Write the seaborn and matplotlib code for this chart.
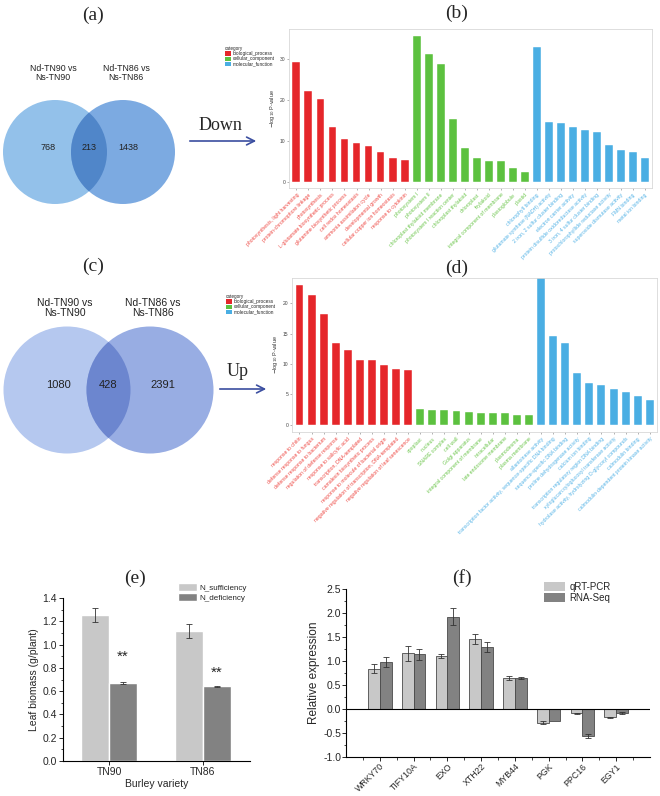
import numpy as np
import pandas as pd
import matplotlib.pyplot as plt
from matplotlib.patches import Circle, Patch
import seaborn as sns

sns.set_style("white")
plt.rcParams['font.family'] = ['Liberation Sans', 'DejaVu Sans']

# ------------------------------------------------------------
# Data
# ------------------------------------------------------------
venn_sets = ["Nd-TN90 vs\nNs-TN90", "Nd-TN86 vs\nNs-TN86"]
venn_down = [768, 213, 1438]
venn_up = [1080, 428, 2391]

go_categories = ["biological_process", "cellular_component", "molecular_function"]
go_colors = ["#e5262a", "#5cc13f", "#4aaee3"]
go_text_colors = ["#ee4a45", "#6ec64e", "#55b3e6"]

down_bp_terms = ["photosynthesis, light harvesting", "protein-chromophore linkage",
                 "photosynthesis", "L-glutamate biosynthetic process",
                 "glutamine biosynthetic process", "cell redox homeostasis",
                 "ammonia assimilation cycle", "developmental growth",
                 "cellular copper ion homeostasis", "response to cytokinin"]
down_bp_vals = [29.3, 22.2, 20.3, 13.4, 10.5, 9.5, 8.7, 7.2, 5.9, 5.4]
down_cc_terms = ["photosystem I", "photosystem II", "chloroplast thylakoid membrane",
                 "photosystem I reaction center", "chloroplast thylakoid", "chloroplast",
                 "thylakoid", "integral component of membrane", "plastoglobule", "plastid"]
down_cc_vals = [35.7, 31.2, 28.9, 15.5, 8.3, 5.9, 5.2, 5.0, 3.3, 2.5]
down_mf_terms = ["chlorophyll binding", "glutamate synthase (NADH) activity",
                 "2 iron, 2 sulfur cluster binding", "electron carrier activity",
                 "protein disulfide oxidoreductase activity", "3 iron, 4 sulfur cluster binding",
                 "protochlorophyllide reductase activity", "superoxide dismutase activity",
                 "FMN binding", "metal ion binding"]
down_mf_vals = [33.1, 14.6, 14.4, 13.5, 12.8, 12.2, 8.9, 7.7, 7.3, 5.9]

up_bp_terms = ["response to chitin", "defense response to fungus",
               "defense response to bacterium", "regulation of defense response",
               "response to salicylic acid", "transcription, DNA-templated",
               "camalexin biosynthetic process", "response to molecule of bacterial origin",
               "negative regulation of transcription, DNA-templated",
               "negative regulation of leaf senescence"]
up_bp_vals = [23.0, 21.4, 18.2, 13.5, 12.3, 10.7, 10.6, 9.8, 9.2, 9.0]
up_cc_terms = ["apoplast", "nucleus", "SNARE complex", "cell wall", "Golgi apparatus",
               "integral component of membrane ", "intracellular", "late endosome membrane",
               "plasmodesma", "plasma membrane"]
up_cc_vals = [2.6, 2.5, 2.4, 2.3, 2.1, 2.0, 1.9, 1.9, 1.6, 1.6]
up_mf_terms = ["allantoinase activity",
               "transcription factor activity, sequence-specific DNA binding",
               "sequence-specific DNA binding", "proline dehydrogenase activity",
               "calcium ion binding", "transcription regulatory region DNA binding",
               "xyloglucan:xyloglucosyl transferase activity",
               "hydrolase activity, hydrolyzing O-glycosyl compounds",
               "calmodulin binding", "calmodulin-dependent protein kinase activity"]
up_mf_vals = [24.3, 14.7, 13.5, 8.6, 6.9, 6.6, 5.9, 5.4, 4.8, 4.1]

varieties = ["TN90", "TN86"]
treatments = ["N_sufficiency", "N_deficiency"]
biomass_suff = [1.25, 1.12]
biomass_suff_err = [0.06, 0.06]
biomass_def = [0.67, 0.64]
biomass_def_err = [0.005, 0.006]
star_y = [0.86, 0.72]

genes = ["WRKY70", "TIFY10A", "EXO", "XTH22", "MYB44", "PGK", "PPC16", "EGY1"]
methods = ["qRT-PCR", "RNA-Seq"]
qpcr = [0.84, 1.16, 1.11, 1.46, 0.65, -0.29, -0.09, -0.17]
qpcr_err = [0.10, 0.15, 0.04, 0.10, 0.04, 0.03, 0.01, 0.01]
rnaseq = [0.98, 1.14, 1.92, 1.29, 0.65, -0.24, -0.57, -0.08]
rnaseq_err = [0.10, 0.12, 0.18, 0.11, 0.015, 0.0, 0.04, 0.02]

# ------------------------------------------------------------
# Figure + overlay (pixel coordinates)
# ------------------------------------------------------------
W, H = 660, 796
fig = plt.figure(figsize=(W / 100, H / 100), dpi=100)
ov = fig.add_axes([0, 0, 1, 1])
ov.set_xlim(0, W)
ov.set_ylim(H, 0)
ov.axis("off")


def fax(left, top, right, bottom):
    return fig.add_axes([left / W, 1 - bottom / H, (right - left) / W, (bottom - top) / H])


serif = ["Liberation Serif", "DejaVu Serif"]
for lab, (x, y) in zip(["(a)", "(b)", "(c)", "(d)", "(e)", "(f)"],
                       [(93, 15), (457, 13), (93, 266), (457, 268), (135, 578), (462, 578)]):
    ov.text(x, y, lab, ha="center", va="center", fontsize=14, family=serif)


# ------------------------------------------------------------
# Venn diagrams
# ------------------------------------------------------------
def venn(counts, c1, c2, r, cols, name_y, fs_name, fs_num, num_x):
    left = Circle(c1, r, facecolor=cols[0], edgecolor="none")
    right = Circle(c2, r, facecolor=cols[1], edgecolor="none")
    ov.add_patch(left)
    ov.add_patch(right)
    lens = Circle(c1, r, facecolor=cols[2], edgecolor="none")
    ov.add_patch(lens)
    lens.set_clip_path(right)
    ov.text(c1[0] - 2, name_y, venn_sets[0], ha="center", va="center",
            fontsize=fs_name, linespacing=1.1, color="#222222")
    ov.text(c2[0] + 3, name_y, venn_sets[1], ha="center", va="center",
            fontsize=fs_name, linespacing=1.1, color="#222222")
    for n, x in zip(counts, num_x):
        ov.text(x, c1[1] - 5, str(n), ha="center", va="center", fontsize=fs_num,
                color="#222222")


venn(venn_down, (55, 152), (123, 152), 52, ["#93c1ea", "#7caae1", "#5086c9"],
     73, 6.3, 6.5, [48, 89, 128])
venn(venn_up, (67, 390), (150, 390), 63.5, ["#b5c8ef", "#98ade3", "#6c86cf"],
     308, 7.5, 8, [58, 108, 163])

# arrows
arrow_col = "#3b4ea0"
ov.annotate("", xy=(259, 141), xytext=(187, 141),
            arrowprops=dict(arrowstyle="->", color=arrow_col, lw=1.2, mutation_scale=14))
ov.text(220, 126, "Down", ha="center", va="center", fontsize=13, family=serif)
ov.annotate("", xy=(269, 389), xytext=(217, 389),
            arrowprops=dict(arrowstyle="->", color=arrow_col, lw=1.2, mutation_scale=14))
ov.text(238, 372, "Up", ha="center", va="center", fontsize=13, family=serif)


# ------------------------------------------------------------
# GO enrichment bar charts
# ------------------------------------------------------------
def go_panel(ax, terms_list, vals_list, ylim, yticks, legend_xy):
    terms = sum(terms_list, [])
    vals = sum(vals_list, [])
    cats = sum([[c] * len(t) for c, t in zip(go_categories, terms_list)], [])
    df = pd.DataFrame({"term": terms, "value": vals, "category": cats})
    sns.barplot(data=df, x="term", y="value", hue="category", order=terms,
                hue_order=go_categories, palette=go_colors, dodge=False, width=0.66,
                edgecolor="white", linewidth=0.3, saturation=1, ax=ax, legend=False)
    ax.set_xlim(-0.62, len(terms) - 0.4)
    ax.set_ylim(*ylim)
    ax.set_yticks(yticks)
    ax.tick_params(axis="y", labelsize=3.6, length=1.5, width=0.4, color="#777777",
                   labelcolor="#444444", pad=1, left=True)
    ax.set_xticks(range(len(terms)))
    ax.set_xticklabels(terms, rotation=45, ha="right", rotation_mode="anchor", fontsize=3.7)
    ax.tick_params(axis="x", length=1.5, width=0.4, color="#777777", pad=1.5, bottom=True)
    tcol = dict(zip(go_categories, go_text_colors))
    for lab, c in zip(ax.get_xticklabels(), cats):
        lab.set_color(tcol[c])
    ax.set_xlabel("")
    ax.set_ylabel("$-$log$_{10}$ P-value", fontsize=4, color="#333333", labelpad=2)
    for s in ax.spines.values():
        s.set_color("#d8d8d8")
        s.set_linewidth(0.6)
    handles = [Patch(facecolor=c, edgecolor="none") for c in go_colors]
    leg = ax.legend(handles, go_categories, title="category", loc="upper left",
                    bbox_to_anchor=(legend_xy[0] / W, 1 - legend_xy[1] / H),
                    bbox_transform=fig.transFigure, frameon=False, fontsize=3.4,
                    title_fontsize=3.3, handlelength=1.3, handleheight=1.1,
                    labelspacing=0.05, handletextpad=0.3, borderpad=0, borderaxespad=0)
    leg._legend_box.align = "left"


ax_b = fax(289, 29, 652, 188)
go_panel(ax_b, [down_bp_terms, down_cc_terms, down_mf_terms],
         [down_bp_vals, down_cc_vals, down_mf_vals], (-1.5, 37.4), [0, 10, 20, 30], (225, 46))

ax_d = fax(292, 278, 657, 432)
go_panel(ax_d, [up_bp_terms, up_cc_terms, up_mf_terms],
         [up_bp_vals, up_cc_vals, up_mf_vals], (-1.2, 24.2), [0, 5, 10, 15, 20], (226, 294))

# ------------------------------------------------------------
# (e) Leaf biomass
# ------------------------------------------------------------
grays = ["#c8c8c8", "#828282"]
ax_e = fax(63, 598, 250, 761)
df_e = pd.DataFrame({
    "variety": varieties * 2,
    "treatment": [treatments[0]] * 2 + [treatments[1]] * 2,
    "biomass": biomass_suff + biomass_def,
})
sns.barplot(data=df_e, x="variety", y="biomass", hue="treatment", order=varieties,
            hue_order=treatments, palette=grays, width=0.6, errorbar=None, saturation=1,
            ax=ax_e)
for cont, errs in zip(ax_e.containers, [biomass_suff_err, biomass_def_err]):
    for bar, e in zip(cont, errs):
        ax_e.errorbar(bar.get_x() + bar.get_width() / 2, bar.get_y() + bar.get_height(),
                      yerr=e, color="#333333", lw=0.6, capsize=2, capthick=0.6)
for bar, y in zip(ax_e.containers[1], star_y):
    ax_e.text(bar.get_x() + bar.get_width() / 2, y, "**", ha="center", va="baseline",
              fontsize=11)
ax_e.set_xlim(-0.49, 1.5)
ax_e.set_ylim(0, 1.4)
ax_e.set_yticks(np.arange(0, 1.41, 0.2))
ax_e.set_yticklabels([f"{v:.1f}" for v in np.arange(0, 1.41, 0.2)])
ax_e.set_yticks(np.arange(0.1, 1.4, 0.2), minor=True)
ax_e.tick_params(axis="both", labelsize=7.5, length=3, width=0.7, direction="out",
                 left=True, bottom=True, pad=1.5)
ax_e.tick_params(axis="y", which="minor", length=1.8, width=0.6, left=True)
ax_e.set_ylabel("Leaf biomass (g/plant)", fontsize=7.5, labelpad=2)
ax_e.set_xlabel("Burley variety", fontsize=7.5, labelpad=1)
sns.despine(ax=ax_e)
for s in ["left", "bottom"]:
    ax_e.spines[s].set_color("black")
    ax_e.spines[s].set_linewidth(0.8)
ax_e.legend(loc="upper left", bbox_to_anchor=(178 / W, 1 - 583 / H),
            bbox_transform=fig.transFigure, frameon=False, fontsize=5.8,
            handlelength=2.4, handleheight=1.2, labelspacing=0.15, handletextpad=0.3,
            borderpad=0, borderaxespad=0)

# ------------------------------------------------------------
# (f) qRT-PCR vs RNA-Seq
# ------------------------------------------------------------
ax_f = fax(346, 589, 650, 757)
df_f = pd.DataFrame({
    "gene": genes * 2,
    "method": [methods[0]] * len(genes) + [methods[1]] * len(genes),
    "expr": qpcr + rnaseq,
})
sns.barplot(data=df_f, x="gene", y="expr", hue="method", order=genes, hue_order=methods,
            palette=grays, width=0.7, errorbar=None, edgecolor="#4a4a4a", linewidth=0.6,
            saturation=1, ax=ax_f)
for cont, errs in zip(ax_f.containers, [qpcr_err, rnaseq_err]):
    for bar, e in zip(cont, errs):
        if e > 0:
            ax_f.errorbar(bar.get_x() + bar.get_width() / 2, bar.get_y() + bar.get_height(),
                          yerr=e, color="#333333", lw=0.6, capsize=2, capthick=0.6)
ax_f.axhline(0, color="black", lw=0.8)
ax_f.set_xlim(-1.0, 8.0)
ax_f.set_ylim(-1.0, 2.5)
yt = np.arange(-1.0, 2.51, 0.5)
ax_f.set_yticks(yt)
ax_f.set_yticklabels([f"{v:.1f}" for v in yt])
ax_f.set_yticks(np.arange(-0.75, 2.5, 0.5), minor=True)
ax_f.set_xticks(np.arange(-0.5, 8.0, 1.0), minor=True)
ax_f.set_xticks(range(len(genes)))
ax_f.set_xticklabels(genes, rotation=45, ha="right", rotation_mode="anchor", fontsize=6.3)
ax_f.tick_params(axis="y", labelsize=7.5)
ax_f.tick_params(axis="both", length=3, width=0.7, direction="out",
                 left=True, bottom=True, pad=0.5)
ax_f.tick_params(which="minor", length=1.8, width=0.6, left=True, bottom=True)
ax_f.set_ylabel("Relative expression", fontsize=8.5, labelpad=2)
ax_f.set_xlabel("")
sns.despine(ax=ax_f)
for s in ["left", "bottom"]:
    ax_f.spines[s].set_color("black")
    ax_f.spines[s].set_linewidth(0.8)
f_handles = [Patch(facecolor=c, edgecolor="none") for c in grays]
ax_f.legend(f_handles, methods, loc="upper left", bbox_to_anchor=(544 / W, 1 - 582 / H),
            bbox_transform=fig.transFigure, frameon=False, fontsize=7,
            handlelength=2.2, handleheight=1.1, labelspacing=0.1, handletextpad=0.4,
            borderpad=0, borderaxespad=0)

fig.savefig("out.png", dpi=100)
